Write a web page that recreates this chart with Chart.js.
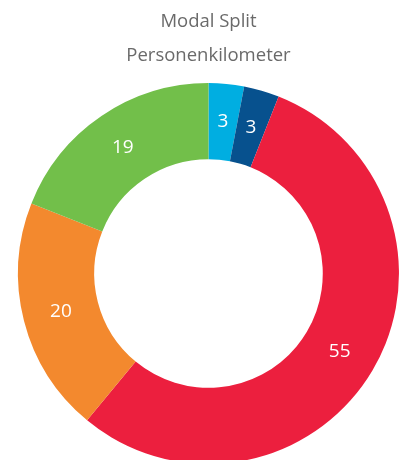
<!DOCTYPE html>
<html>
<head>
<meta charset="utf-8">
<script src="https://cdn.jsdelivr.net/npm/chart.js@4"></script>
<style>
html, body { margin: 0; padding: 0; overflow: hidden; background: #fff; }
#wrap { width: 402px; height: 464px; position: relative; }
</style>
</head>
<body>
<div id="wrap"><canvas id="c"></canvas></div>
<script>
const titleLines = ['Modal Split', 'Personenkilometer'];
const categories = ['Segment A', 'Segment B', 'Segment C', 'Segment D', 'Segment E'];
const values = [3, 3, 55, 20, 19];
const colors = ['#00AEE1', '#07518E', '#EC1F3E', '#F3892E', '#72BF4A'];

const labelPlugin = {
  id: 'sliceLabels',
  afterDatasetsDraw(chart) {
    const ctx = chart.ctx;
    const meta = chart.getDatasetMeta(0);
    ctx.save();
    ctx.fillStyle = '#ffffff';
    ctx.font = '500 19px "Open Sans", sans-serif';
    ctx.textAlign = 'center';
    ctx.textBaseline = 'middle';
    meta.data.forEach((arc, i) => {
      const p = arc.getCenterPoint();
      ctx.fillText(String(values[i]), p.x, p.y);
    });
    ctx.restore();
  }
};

new Chart(document.getElementById('c'), {
  type: 'doughnut',
  data: {
    labels: categories,
    datasets: [{
      data: values,
      backgroundColor: colors,
      borderWidth: 0,
      hoverOffset: 0
    }]
  },
  options: {
    responsive: true,
    maintainAspectRatio: false,
    animation: false,
    cutout: '60%',
    layout: { padding: { left: 18, right: 3, top: 0, bottom: 0 } },
    plugins: {
      legend: { display: false },
      tooltip: { enabled: false },
      title: {
        display: true,
        text: titleLines,
        color: '#6a6a6a',
        font: { family: '"Open Sans", sans-serif', size: 18.5, weight: 'normal', lineHeight: 1.84 },
        padding: { top: 5, bottom: 10 }
      }
    }
  },
  plugins: [labelPlugin]
});
</script>
</body>
</html>
